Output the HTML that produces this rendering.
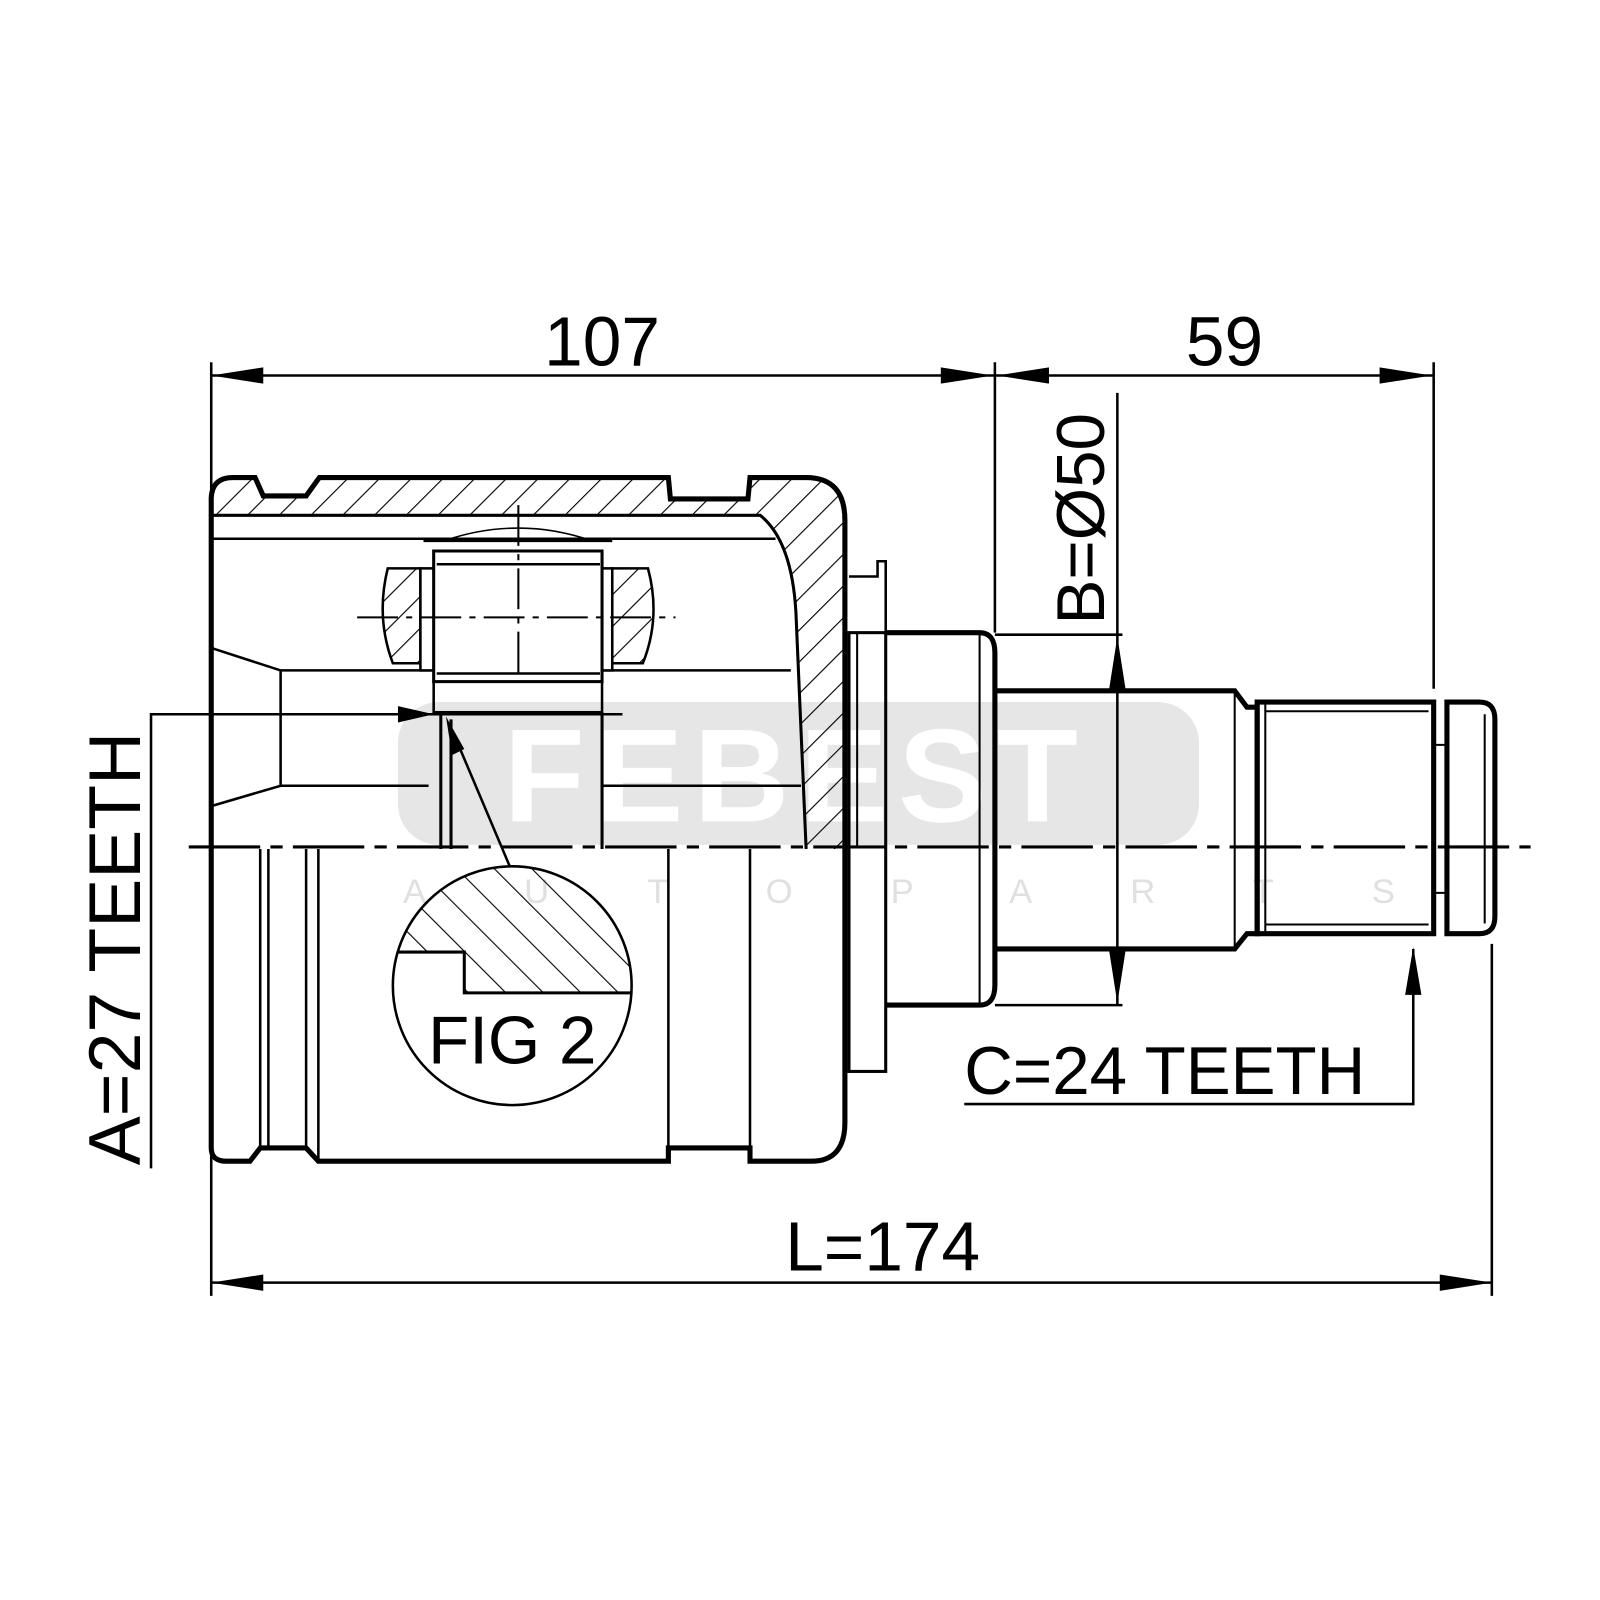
<!DOCTYPE html>
<html><head><meta charset="utf-8"><style>html,body{margin:0;padding:0;background:#fff}svg{display:block}</style></head>
<body>
<svg width="1600" height="1600" viewBox="0 0 1568 1568" xmlns="http://www.w3.org/2000/svg" font-family="'Liberation Sans', sans-serif">
<defs>
<pattern id="h" patternUnits="userSpaceOnUse" width="22" height="22" patternTransform="rotate(45)">
<line x1="0" y1="0" x2="0" y2="22" stroke="#000" stroke-width="2.2"/></pattern>
<pattern id="h2" patternUnits="userSpaceOnUse" width="26" height="26" patternTransform="rotate(-45)">
<line x1="0" y1="0" x2="0" y2="26" stroke="#000" stroke-width="2.2"/></pattern>
<clipPath id="cc"><circle cx="502" cy="966" r="117"/></clipPath>
</defs>
<rect width="1568" height="1568" fill="#fff"/>
<!-- watermark -->
<rect x="390" y="688" width="785" height="140" rx="40" fill="#e6e6e6"/>
<text x="780" y="805" font-size="130" font-weight="bold" fill="#fff" text-anchor="middle" letter-spacing="10">FEBEST</text>
<text x="395" y="885" font-size="34" fill="#e0e0e0" letter-spacing="96">AUTOPARTS</text>

<g stroke="#000" fill="none" stroke-linecap="butt">
<!-- hatched top band + right wall -->
<path d="M209,505 L209,488 Q210,470 228,470 L250,470 L258,487 L300,487 L313,470 L655,470 L657,490 L733,490 L735,470 L790,470 Q826,470 826,508 L826,832 L790,832 L780,600 Q776,530 745,505 Z" fill="url(#h)" stroke="none"/>
<path d="M207,505 L745,505 Q776,530 780,600 L790,832" stroke-width="3"/>
<path d="M207,835 L207,488 Q208,468 228,468 L250,468 L258,486 L300,486 L313,468 L655,468 L657,489 L733,489 L735,468 L790,468 Q828,468 828,510 L828,1100 Q828,1138 795,1138 L735,1138 L735,1125 L655,1125 L655,1138 L312,1138 L300,1125 L255,1125 L245,1138 L222,1138 Q207,1138 207,1125 Z" stroke-width="5"/>
<line x1="207" y1="528" x2="760" y2="528" stroke-width="2.5"/>
<!-- inner cone -->
<path d="M207,635 L275,657 L775,657 M207,790 L275,770 L420,770 M590,770 L785,770 M275,657 L275,770" stroke-width="2.5"/>
<!-- lower half lines -->
<path d="M255,832 L255,1125 M263,832 L263,1125 M300,832 L300,1125 M312,832 L312,1138 M655,832 L655,1125 M735,832 L735,1125" stroke-width="2.5"/>
<!-- rollers -->
<path d="M380,557 L412,557 L412,650 L385,650 Q368,605 380,557 Z" fill="url(#h)" stroke-width="2.5"/>
<path d="M635,557 L600,557 L600,650 L630,650 Q648,605 635,557 Z" fill="url(#h)" stroke-width="2.5"/>
<rect x="412" y="557" width="14" height="100" stroke-width="2.5" fill="#fff"/>
<rect x="586" y="557" width="14" height="100" stroke-width="2.5" fill="#fff"/>
<path d="M425,540 L590,540 L590,668 L425,668 Z" stroke-width="3" fill="#fff"/>
<path d="M415,530 L600,530 M428,553 L588,553 M428,660 L588,660" stroke-width="2.5"/>
<path d="M435,530 Q508,505 580,530" stroke-width="1.5"/>
<rect x="425" y="668" width="165" height="30" stroke-width="2.5"/>
<path d="M432,698 L432,832 M442,705 L442,832 M590,698 L590,832" stroke-width="3"/>
<path d="M508,495 L508,668" stroke-width="2" stroke-dasharray="40,8,6,8"/>
<path d="M350,605 L662,605" stroke-width="2" stroke-dasharray="40,8,6,8"/>
<!-- shaft -->
<path d="M832,565 L860,565 L860,550 L868,550 L868,620" stroke-width="2.5"/>
<rect x="832" y="620" width="36" height="430" stroke-width="3"/>
<line x1="840" y1="620" x2="840" y2="830" stroke-width="2"/>
<path d="M868,620 L960,620 Q975,620 975,640 L975,965 Q975,985 960,985 L868,985" stroke-width="5"/>
<line x1="960" y1="620" x2="960" y2="985" stroke-width="2"/>
<path d="M975,677 L1210,677 L1222,693 L1232,693 L1232,915 L1222,915 L1210,930 L975,930" stroke-width="5"/>
<line x1="1210" y1="677" x2="1210" y2="930" stroke-width="2"/>
<path d="M1232,688 L1405,688 L1405,915 L1232,915 Z" stroke-width="5"/>
<path d="M1240,697 L1400,697 M1240,906 L1400,906 M1240,688 L1240,915" stroke-width="2"/>
<path d="M1405,730 L1418,730 M1405,875 L1418,875" stroke-width="2"/>
<path d="M1418,688 L1450,688 Q1465,688 1465,705 L1465,898 Q1465,915 1450,915 L1418,915 Z" stroke-width="5"/>
<line x1="1455" y1="700" x2="1455" y2="905" stroke-width="2"/>
<!-- centerline -->
<path d="M185,830 L1500,830" stroke-width="3" stroke-dasharray="70,10,12,10"/>
<!-- FIG2 -->
<g clip-path="url(#cc)">
<path d="M380,933 L455,933 L455,973 L630,973 L630,840 L380,840 Z" fill="url(#h2)" stroke="none"/>
<path d="M380,933 L455,933 L455,973 L630,973" stroke-width="3"/>
</g>
<circle cx="502" cy="966" r="117" stroke-width="2.5"/>
<line x1="500" y1="850" x2="445" y2="720" stroke-width="2.5"/>
<!-- dimension lines -->
<path d="M207,355 L207,1270 M975,355 L975,620 M1405,355 L1405,675 M1462,925 L1462,1270" stroke-width="2.5"/>
<path d="M207,368 L1405,368 M207,1257 L1462,1257" stroke-width="2.5"/>
<path d="M975,622 L1100,622 M975,985 L1100,985 M1095,385 L1095,985" stroke-width="2.5"/>
<path d="M148,1145 L148,700 L610,700" stroke-width="2.5"/>
<path d="M945,1082 L1385,1082 L1385,930" stroke-width="2.5"/>
</g>
<!-- arrowheads -->
<g fill="#000">
<path d="M207,368 L258,360 L258,376 Z"/><path d="M973,368 L922,360 L922,376 Z"/>
<path d="M977,368 L1028,360 L1028,376 Z"/><path d="M1403,368 L1352,360 L1352,376 Z"/>
<path d="M207,1257 L258,1249 L258,1265 Z"/><path d="M1462,1257 L1411,1249 L1411,1265 Z"/>
<path d="M1095,624 L1087,675 L1103,675 Z"/><path d="M1095,983 L1087,932 L1103,932 Z"/>
<path d="M1385,928 L1377,975 L1393,975 Z"/>
<path d="M425,700 L390,692 L390,708 Z"/>
<path d="M437,702 L443,740 L455,734 Z"/>
</g>
<!-- text -->
<g fill="#000" font-size="68">
<text x="590" y="358" text-anchor="middle">107</text>
<text x="1200" y="358" text-anchor="middle">59</text>
<text x="865" y="1245" text-anchor="middle">L=174</text>
<text x="945" y="1072" font-size="66">C=24 TEETH</text>
<text transform="translate(137,1142) rotate(-90)" font-size="72">A=27 TEETH</text>
<text transform="translate(1082,612) rotate(-90)" font-size="66">B=Ø50</text>
<text x="502" y="1042" text-anchor="middle" font-size="66">FIG 2</text>
</g>
</svg>
</body></html>
